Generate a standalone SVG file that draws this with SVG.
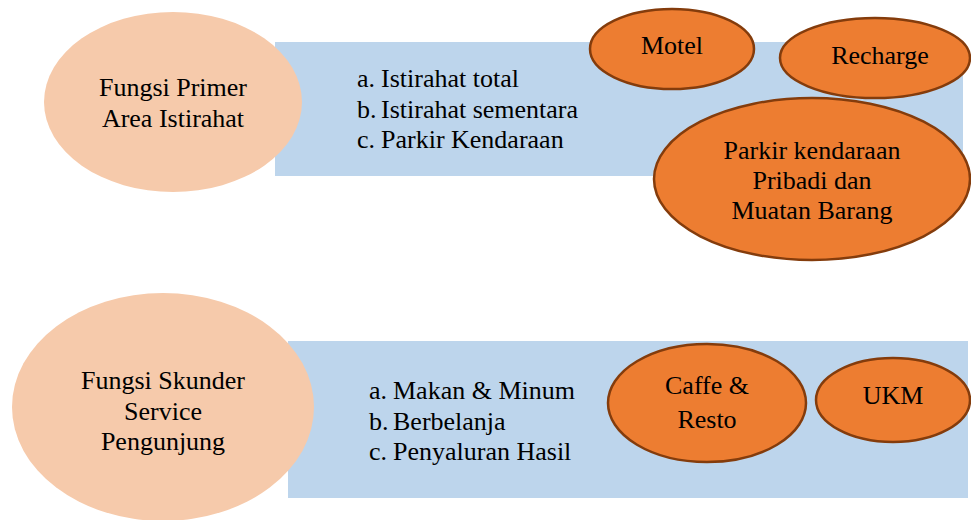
<svg xmlns="http://www.w3.org/2000/svg" width="971" height="520" viewBox="0 0 971 520">
<style>
text{font-family:'Liberation Serif','Times New Roman',serif;font-size:26px;fill:#000}
.c{text-anchor:middle}
.peach{fill:#f6caab}
.panel{fill:#bdd5ec}
.org{fill:#ed7d31;stroke:#843c0c;stroke-width:2.5}
</style>
<rect width="971" height="520" fill="#fff"/>
<g id="panel1"><rect class="panel" x="275" y="42" width="688" height="134"/>
<text x="357" y="87">a.</text><text x="381" y="87">Istirahat total</text>
<text x="357" y="118">b.</text><text x="381" y="118">Istirahat sementara</text>
<text x="357" y="148">c.</text><text x="381" y="148">Parkir Kendaraan</text></g>
<g id="primer"><ellipse class="peach" cx="173" cy="102" rx="129" ry="90"/>
<text class="c" x="173" y="96">Fungsi Primer</text><text class="c" x="173" y="127">Area Istirahat</text></g>
<g id="motel"><ellipse class="org" cx="672" cy="49" rx="82" ry="40"/><text class="c" x="672" y="54">Motel</text></g>
<g id="recharge"><ellipse class="org" cx="875" cy="58" rx="95" ry="40"/><text class="c" x="880" y="64">Recharge</text></g>
<g id="parkir"><ellipse class="org" cx="812" cy="179" rx="158" ry="81"/>
<text class="c" x="812" y="159">Parkir kendaraan</text><text class="c" x="812" y="189">Pribadi dan</text><text class="c" x="812" y="219">Muatan Barang</text></g>
<g id="panel2"><rect class="panel" x="288" y="341" width="680" height="157"/>
<text x="369" y="399">a.</text><text x="393" y="399">Makan &amp; Minum</text>
<text x="369" y="430">b.</text><text x="393" y="430">Berbelanja</text>
<text x="369" y="460">c.</text><text x="393" y="460">Penyaluran Hasil</text></g>
<g id="skunder"><ellipse class="peach" cx="163" cy="407" rx="151" ry="114"/>
<text class="c" x="163" y="389">Fungsi Skunder</text><text class="c" x="163" y="420">Service</text><text class="c" x="163" y="450">Pengunjung</text></g>
<g id="caffe"><ellipse class="org" cx="707" cy="403" rx="99" ry="59"/>
<text class="c" x="707" y="394">Caffe &amp;</text><text class="c" x="707" y="428">Resto</text></g>
<g id="ukm"><ellipse class="org" cx="893" cy="400" rx="77" ry="42"/><text class="c" x="893" y="404">UKM</text></g>
<g id="connectors"/>
</svg>
